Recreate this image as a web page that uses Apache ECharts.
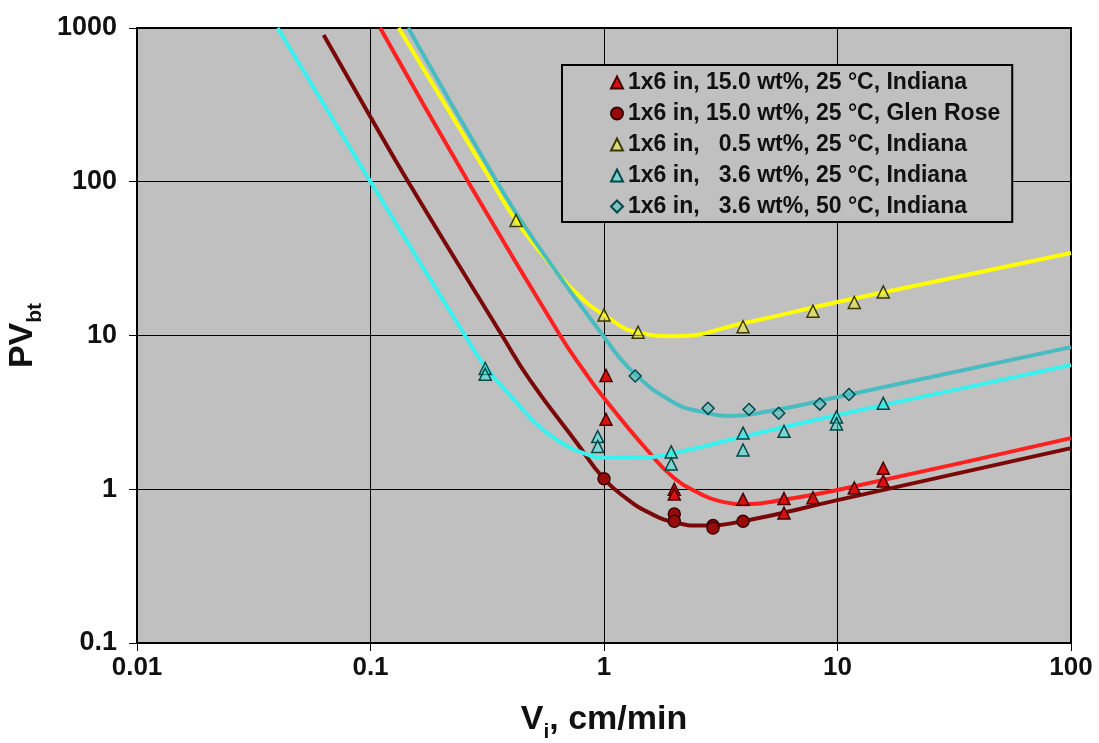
<!DOCTYPE html>
<html><head><meta charset="utf-8">
<script src="https://cdn.jsdelivr.net/npm/echarts@6/dist/echarts.min.js"></script>
<style>html,body{margin:0;padding:0;background:#fff}#c{width:1099px;height:743px}</style>
</head><body><div id="c"></div>
<script>
// ---- data ----
const seriesNames = [
  '1x6 in, 15.0 wt%, 25 °C, Indiana',
  '1x6 in, 15.0 wt%, 25 °C, Glen Rose',
  '1x6 in,   0.5 wt%, 25 °C, Indiana',
  '1x6 in,   3.6 wt%, 25 °C, Indiana',
  '1x6 in,   3.6 wt%, 50 °C, Indiana'
];
const xTicks = ['0.01', '0.1', '1', '10', '100'];
const yTicks = ['0.1', '1', '10', '100', '1000'];

// measured points [Vi, PVbt]
const pts15Indiana = [[1.02,5.5],[1.02,2.85],[2.0,1.0],[2.0,0.93],[3.94,0.86],[5.9,0.87],[5.9,0.70],[7.85,0.88],[11.8,1.02],[15.7,1.37],[15.7,1.13]];
const pts15GlenRose = [[1.0,1.17],[2.0,0.69],[2.0,0.62],[2.93,0.58],[2.93,0.56],[3.94,0.62]];
const pts05Indiana = [[0.42,56],[1.0,13.6],[1.4,10.5],[3.94,11.4],[7.85,14.4],[11.8,16.4],[15.7,19.2]];
const pts36Indiana25 = [[0.31,6.1],[0.31,5.6],[0.94,2.2],[0.94,1.9],[1.94,1.75],[1.94,1.46],[3.94,2.32],[3.94,1.8],[5.9,2.38],[9.9,2.95],[9.9,2.66],[15.7,3.62]];
const pts36Indiana50 = [[1.36,5.45],[2.79,3.36],[4.18,3.3],[5.6,3.12],[8.4,3.58],[11.2,4.13]];

// fitted curves [Vi, PVbt]
const crv15Indiana = [[0.11,1000],[0.262,100],[0.649,10],[0.82,5.9],[0.99,4.0],[1.53,1.8],[2.0,1.18],[2.6,0.93],[3.1,0.84],[4.1,0.80],[6,0.86],[10,0.99],[100,2.15]];
const crv15GlenRose = [[0.063,900],[0.1,264],[0.145,100],[0.366,10],[0.482,5.13],[0.765,2.0],[1.0,1.17],[1.25,0.87],[1.57,0.70],[2.0,0.61],[2.6,0.58],[3.94,0.62],[10,0.85],[100,1.85]];
const crv05Indiana = [[0.132,1000],[0.331,100],[0.42,56],[0.55,33],[0.736,19.8],[1.03,13.2],[1.42,10.4],[2.0,9.9],[3.94,12.0],[10,16.5],[100,34.4]];
const crv36Indiana25 = [[0.04,1000],[0.1,100],[0.254,10],[0.31,6.3],[0.42,3.7],[0.53,2.55],[0.66,2.0],[0.79,1.75],[1.03,1.6],[1.6,1.62],[2.1,1.75],[2.6,1.88],[3.94,2.2],[10,3.04],[30,4.35],[100,6.43]];
const crv36Indiana50 = [[0.145,1000],[0.348,100],[0.5,42],[0.99,10],[1.33,5.8],[2.0,3.65],[2.6,3.2],[3.4,3.0],[5,3.2],[10,3.98],[100,8.4]];

// ---- styling ----
const FONT = 'Liberation Sans, Arial, sans-serif';
const lineColors = ['#FF2020', '#7A0808', '#FFFF00', '#38F2F0', '#48BCC0'];
const markerStyles = [
  {symbol:'triangle', size:12, color:'#D81010', border:'#4a0000'},
  {symbol:'circle', size:12, color:'#9A0A0A', border:'#3a0000'},
  {symbol:'triangle', size:12, color:'rgba(235,235,60,0.55)', border:'#3a3a00'},
  {symbol:'triangle', size:12, color:'rgba(60,230,220,0.5)', border:'#004848'},
  {symbol:'diamond', size:12, color:'rgba(70,190,190,0.5)', border:'#004848'}
];
const pointSets = [pts15Indiana, pts15GlenRose, pts05Indiana, pts36Indiana25, pts36Indiana50];
const curveSets = [crv15Indiana, crv15GlenRose, crv05Indiana, crv36Indiana25, crv36Indiana50];

function tickLabel(list, v) {
  const lv = Math.log10(v);
  for (const t of list) if (Math.abs(Math.log10(parseFloat(t)) - lv) < 1e-6) return t;
  return '';
}

const series = [];
curveSets.forEach((d, i) => {
  series.push({
    name: 'curve' + i, type: 'line', data: d, showSymbol: false, symbol: 'none',
    smooth: 0.5, silent: true, z: 2,
    lineStyle: {color: lineColors[i], width: 4}
  });
});
pointSets.forEach((d, i) => {
  const m = markerStyles[i];
  series.push({
    name: seriesNames[i], type: 'scatter', data: d, symbol: m.symbol, symbolSize: m.size, z: 5,
    itemStyle: {color: m.color, borderColor: m.border, borderWidth: 1.5, opacity: 1}
  });
});

const titleRich = {
  b: {fontFamily: FONT, fontWeight: 'bold', fontSize: 34, lineHeight: 46, color: '#111'},
  s: {fontFamily: FONT, fontWeight: 'bold', fontSize: 21, lineHeight: 22, verticalAlign: 'bottom', color: '#111'}
};

const chart = echarts.init(document.getElementById('c'), null, {renderer: 'canvas'});
chart.setOption({
  animation: false,
  backgroundColor: '#ffffff',
  grid: {left: 137, right: 28, top: 28, bottom: 100, containLabel: false, outerBoundsMode: 'none',
    show: true, backgroundColor: '#C0C0C0', borderColor: '#000', borderWidth: 2},
  legend: {
    data: seriesNames, orient: 'vertical', left: 562, top: 65,
    backgroundColor: '#C0C0C0', borderColor: '#000', borderWidth: 2,
    padding: [6, 12, 4, 48], itemGap: 8, itemWidth: 12, itemHeight: 12,
    textStyle: {fontFamily: FONT, fontWeight: 'bold', fontSize: 23, lineHeight: 22, color: '#111'}
  },
  xAxis: {
    type: 'log', logBase: 10, min: 0.01, max: 100,
    name: '{b|V}{s|i}{b|, cm/min}', nameLocation: 'middle', nameGap: 54,
    nameTextStyle: {rich: titleRich},
    axisLine: {show: true, lineStyle: {color: '#000', width: 2}},
    axisTick: {show: true, length: 8, lineStyle: {color: '#000', width: 1}},
    minorTick: {show: false},
    splitLine: {show: true, lineStyle: {color: '#000', width: 1}},
    axisLabel: {margin: 12, fontFamily: FONT, fontWeight: 'bold', fontSize: 26, color: '#111',
      formatter: v => tickLabel(xTicks, v)}
  },
  yAxis: {
    type: 'log', logBase: 10, min: 0.1, max: 1000,
    name: '{b|PV}{s|bt}', nameLocation: 'middle', nameGap: 88, nameRotate: 90,
    nameTextStyle: {rich: titleRich},
    axisLine: {show: true, lineStyle: {color: '#000', width: 2}},
    axisTick: {show: true, length: 8, lineStyle: {color: '#000', width: 1}},
    splitLine: {show: true, lineStyle: {color: '#000', width: 1}},
    axisLabel: {margin: 20, fontFamily: FONT, fontWeight: 'bold', fontSize: 27, color: '#111',
      formatter: v => tickLabel(yTicks, v)}
  },
  series: series
});
</script></body></html>
